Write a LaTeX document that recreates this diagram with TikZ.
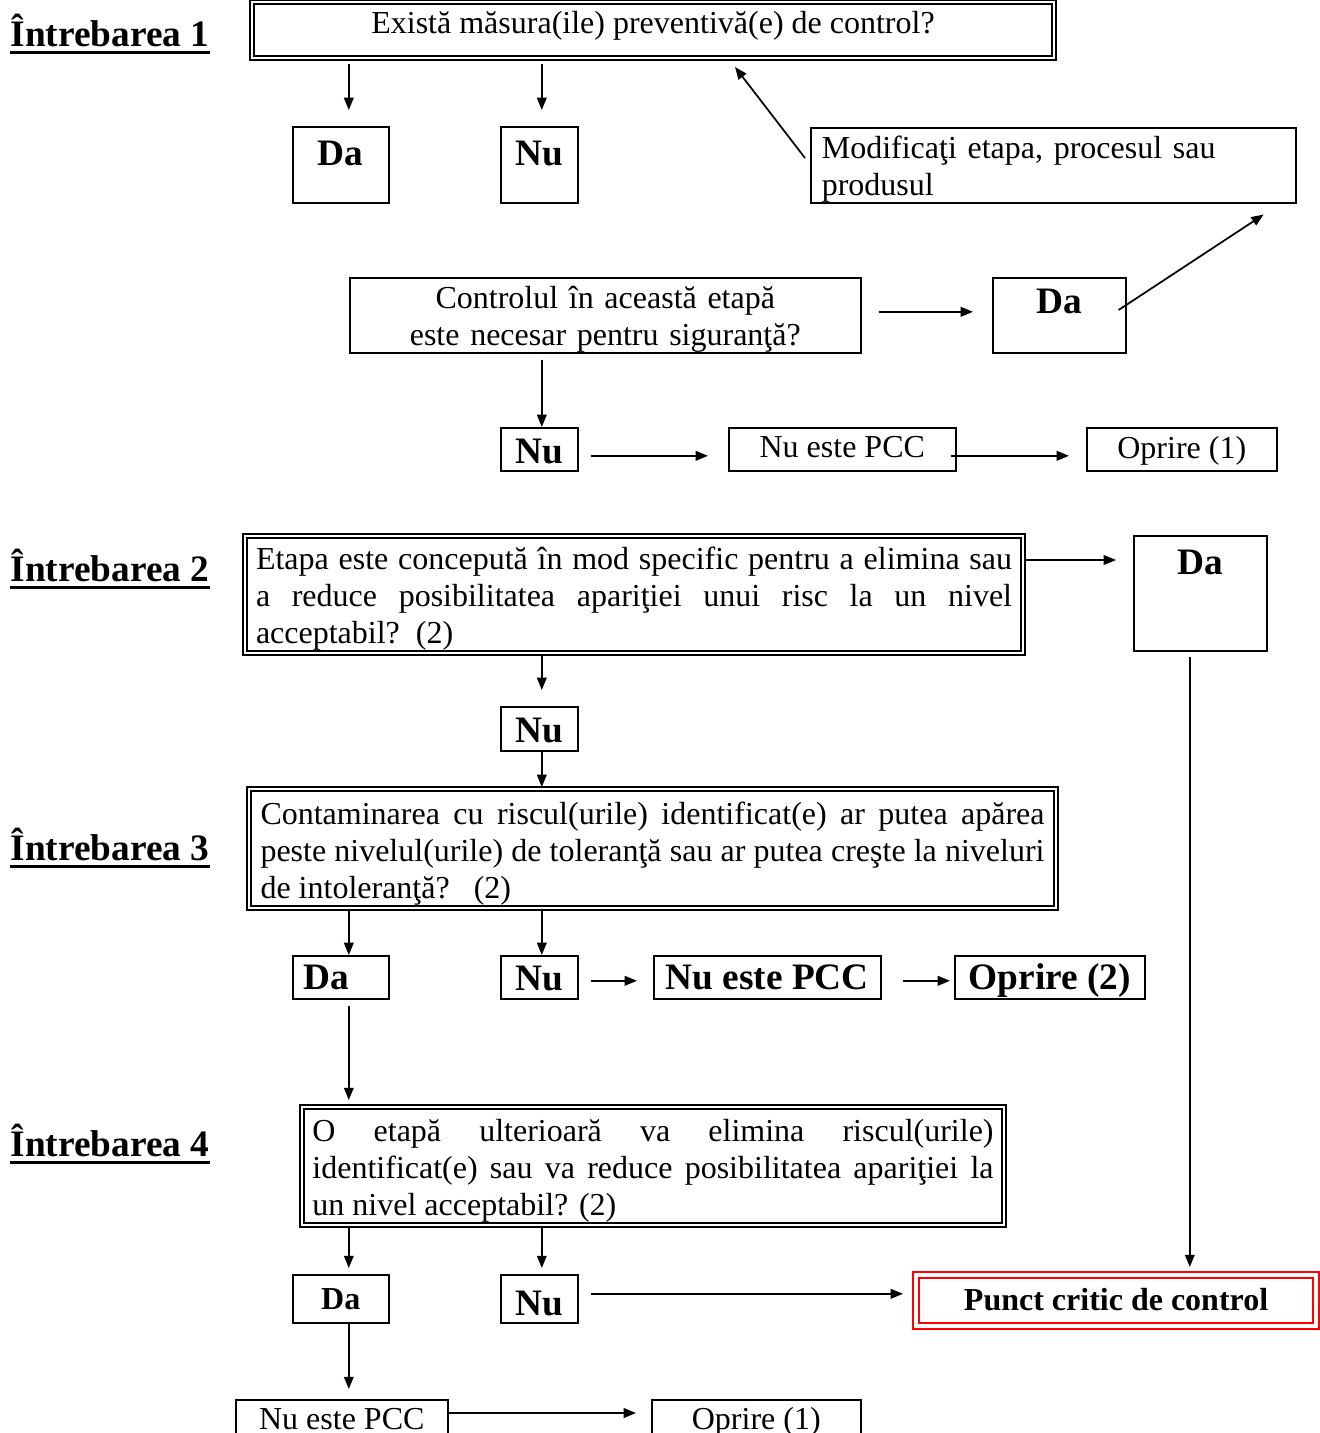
\documentclass[tikz,border=0pt]{standalone}
\usepackage{fontspec}
\setmainfont{Liberation Serif}
\usetikzlibrary{arrows.meta,calc}
\hyphenpenalty=10000
\exhyphenpenalty=10000
\tikzset{
  box/.style={draw, line width=0.6pt, anchor=north west, inner ysep=0pt, inner xsep=0pt},
  rg/.style={font=\fontsize{12}{13.9}\selectfont},
  bd/.style={font=\fontsize{14}{16}\selectfont\bfseries},
  bdsmall/.style={font=\fontsize{12}{13.9}\selectfont\bfseries},
  qbox/.style={double, line width=0.75pt, double distance=0.8pt},
  redbox/.style={draw=red, double, line width=0.8pt, double distance=1.2pt},
  jt/.style={align=justify},
  title/.style={font=\fontsize{14}{16}\selectfont\bfseries, inner sep=0pt, anchor=base west},
  uline/.style={line width=1.1pt},
  arr/.style={-{Triangle[length=4.6pt,width=3.6pt]}, line width=0.65pt}
}
\newcommand\bx[8]{%
  \pgfmathsetlengthmacro\bxw{(#5-#3)*0.375pt}%
  \pgfmathsetlengthmacro\bxh{(#6-#4)*0.375pt}%
  \pgfmathsetlengthmacro\bxd{(#7-#6)*0.375pt}%
  \node[box,#2,minimum width=\bxw,text height=\bxh,text depth=\bxd] (#1) at (#3,#4) {#8};}
\begin{document}
\begin{tikzpicture}[x=0.375pt,y=-0.375pt]
\useasboundingbox (0,0) rectangle (1319,1433);
\fill[white] (0,0) rectangle (1319,1433);

% titles
\node[title] (t1) at (10,46) {Întrebarea 1};
\node[title] (t2) at (10,581) {Întrebarea 2};
\node[title] (t3) at (10,860) {Întrebarea 3};
\node[title] (t4) at (10,1156) {Întrebarea 4};
\foreach \t in {t1,t2,t3,t4}
  \draw[uline] ([yshift=-2.4pt]\t.base west) -- ([yshift=-2.4pt]\t.base east);

% question 1
\bx{q1}{qbox,rg}{251}{1}{1053}{32}{57}{Există măsura(ile) preventivă(e) de control?}
\bx{da1}{bd}{292}{126}{388}{165}{202}{Da}
\bx{nu1}{bd}{500}{126}{577}{165}{202}{Nu}
\bx{mod}{rg,text width=173.6pt,align=left}{810}{127}{1295}{158}{202}{Modificaţi etapa, procesul sau\\produsul}
\bx{ctrl}{rg,text width=183.4pt,align=center}{349}{277}{860}{308}{352}{Controlul în această etapă\\este necesar pentru siguranţă?}
\bx{da2}{bd}{992}{277}{1125}{313}{352}{Da}
\bx{nu1b}{bd}{500}{427}{577}{463}{470}{Nu}
\bx{pcc1}{rg}{728}{427}{955}{457}{470}{Nu este PCC}
\bx{op1}{rg}{1086}{427}{1276}{458}{470}{Oprire (1)}

% question 2
\bx{q2}{qbox,rg,jt,text width=283.5pt}{244}{535}{1022}{568}{652}{Etapa este concepută în mod specific pentru a elimina sau\linebreak a reduce posibilitatea apariţiei unui risc la un nivel\linebreak acceptabil?\ \ (2)}
\bx{da3}{bd}{1133}{535}{1266}{574}{650}{Da}
\bx{nu2}{bd}{500}{706}{577}{742}{750}{Nu}

% question 3
\bx{q3}{qbox,rg,jt,text width=294pt}{248}{788}{1055}{823}{907}{Contaminarea cu riscul(urile) identificat(e) ar putea apărea\linebreak peste nivelul(urile) de toleranţă sau ar putea creşte la niveluri\linebreak de intoleranţă?\ \ \ (2)}
\bx{da4}{bd,text width=27.75pt,align=left}{292}{955}{388}{989}{998}{Da}
\bx{nu3}{bd}{500}{955}{577}{990}{998}{Nu}
\bx{pcc3}{bd}{653}{955}{880}{989}{998}{Nu este PCC}
\bx{op2}{bd}{954}{955}{1144}{989}{998}{Oprire (2)}

% question 4
\bx{q4}{qbox,rg,jt,text width=255.4pt}{301}{1106}{1003}{1140}{1224}{O etapă ulterioară va elimina riscul(urile)\linebreak identificat(e) sau va reduce posibilitatea apariţiei la\linebreak un nivel acceptabil? (2)}
\bx{da5}{bdsmall}{292}{1274}{388}{1309}{1322}{Da}
\bx{nu4}{bd}{500}{1274}{577}{1315}{1322}{Nu}
\bx{pcc}{redbox,bdsmall}{915}{1274}{1315}{1309}{1325}{Punct critic de control}
\bx{pcc4}{rg}{235}{1399}{447}{1429}{1450}{Nu este PCC}
\bx{op3}{rg}{651}{1399}{860}{1429}{1450}{Oprire (1)}

% arrow end points (free ends of connectors, placed next to their target boxes)
\coordinate (e1) at ($(da1.north)+(8,-16)$);
\coordinate (e2) at ($(nu1.north)+(2.5,-16)$);
\coordinate (e6) at ($(nu1b.north)+(2.5,0)$);
\coordinate (e10) at ($(nu2.north)+(2.5,-16)$);
\coordinate (e11) at ($(q3.north)+(0,-1)$);
\coordinate (e12) at ($(pcc.north -| da3.south)+(-10.5,-7)$);
\coordinate (e13) at ($(da4.north)+(8,0)$);
\coordinate (e14) at ($(nu3.north)+(2.5,0)$);
\coordinate (e17) at ($(q4.north)+(0,-6)$);
\coordinate (e18) at ($(da5.north)+(8,-6)$);
\coordinate (e19) at ($(nu4.north)+(2.5,-6)$);
\coordinate (s20) at ($(nu4.east)+(12,-5)$);
\coordinate (e21) at ($(pcc4.north)+(7,-10)$);

% connectors
\draw[arr] ($(q1.south -| e1)+(0,5)$) -- (e1);
\draw[arr] ($(q1.south -| e2)+(0,5)$) -- (e2);
\draw[arr] ($(mod.north west)+(-5,31)$) -- ($(q1.south west)+(484,8)$);
\draw[arr] ($(da2.north east)+(-8,33)$) -- ($(mod.south east)+(-33,11)$);
\draw[arr] ($(ctrl.east)+(17,-3.5)$) -- ($(da2.west)+(-19,-3.5)$);
\draw[arr] ($(ctrl.south -| e6)+(0,6)$) -- (e6);
\draw[arr] ($(nu1b.east)+(12,6.5)$) -- ($(pcc1.west)+(-20,6.5)$);
\draw[arr] ($(pcc1.east)+(-6,6.5)$) -- ($(op1.west)+(-17,6.5)$);

\draw[arr] ($(q2.north east)+(0,25)$) -- ($(da3.north west)+(-17,25)$);
\draw[arr] (q2.south -| e10) -- (e10);
\draw[arr] (nu2.south -| e10) -- (e11 -| e10);
\draw[arr] ($(da3.south -| e12)+(0,5)$) -- (e12);

\draw[arr] (q3.south -| e13) -- (e13);
\draw[arr] (q3.south -| e14) -- (e14);
\draw[arr] ($(nu3.east)+(12,3.5)$) -- ($(pcc3.west)+(-16,3.5)$);
\draw[arr] ($(pcc3.east)+(21,3.5)$) -- ($(op2.west)+(-4,3.5)$);
\draw[arr] ($(da4.south -| e13)+(0,6)$) -- (e17 -| e13);

\draw[arr] (q4.south -| e18) -- (e18);
\draw[arr] (q4.south -| e19) -- (e19);
\draw[arr] (s20) -- ($(pcc.west |- s20)+(-12,0)$);
\draw[arr] (da5.south -| e21) -- (e21);
\draw[arr] ($(pcc4.north east)+(0,14)$) -- ($(op3.north west)+(-15,14)$);
\end{tikzpicture}
\end{document}
